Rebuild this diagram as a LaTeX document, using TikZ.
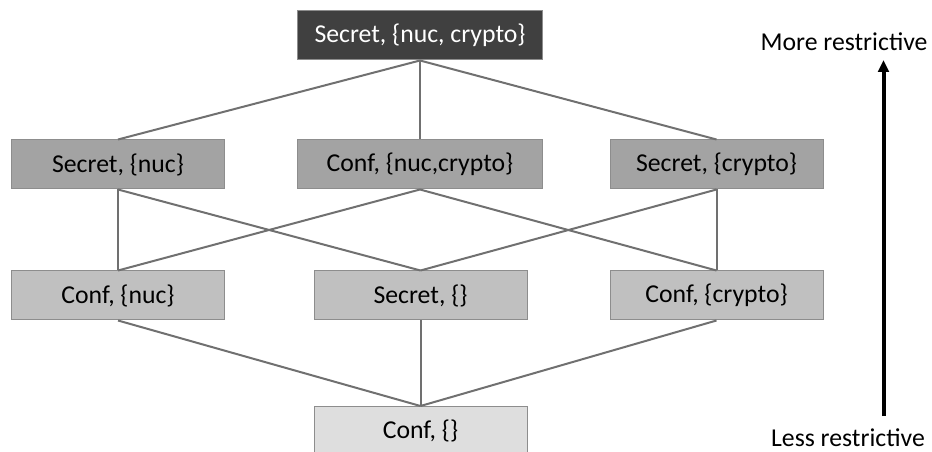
\documentclass[tikz,border=0pt]{standalone}
\usepackage{fontspec}
\setmainfont{Carlito}
\usetikzlibrary{arrows.meta}

\definecolor{topgray}{RGB}{64,64,64}
\definecolor{midgray}{RGB}{163,163,163}
\definecolor{lowgray}{RGB}{192,192,192}
\definecolor{botgray}{RGB}{222,222,222}
\definecolor{linegray}{RGB}{112,112,112}

\begin{document}
\begin{tikzpicture}[x=0.75pt,y=-0.75pt,
		every node/.style={font=\fontsize{19.3}{23}\selectfont},
		lbox/.style={draw=linegray!80, line width=0.75pt, inner sep=0pt,
			minimum height=36.75pt, minimum width=159.75pt},
		wide/.style={minimum width=183.5pt},
		link/.style={draw=linegray, line width=1.5pt}]
				\useasboundingbox (0,0) rectangle (932,452);
				
				% lattice levels
				\node[lbox, wide, fill=topgray, text=white] (sc-nc) at (420,35.5) {Secret, \{nuc, crypto\}};
				
				\node[lbox, fill=midgray] (s-n) at (118,164.5) {Secret, \{nuc\}};
				\node[lbox, wide, fill=midgray] (c-nc) at (420,164.5) {Conf, \{nuc,crypto\}};
				\node[lbox, fill=midgray] (s-c) at (716.5,164.5) {Secret, \{crypto\}};
				
				\node[lbox, fill=lowgray] (c-n) at (118,295.5) {Conf, \{nuc\}};
				\node[lbox, fill=lowgray] (s-0) at (420.5,295.5) {Secret, \{\}};
				\node[lbox, fill=lowgray] (c-c) at (716.5,295.5) {Conf, \{crypto\}};
				
				\node[lbox, fill=botgray] (c-0) at (420.5,431) {Conf, \{\}};
				
				% order relation
				\foreach \a/\b in {sc-nc/s-n, sc-nc/c-nc, sc-nc/s-c,
					s-n/c-n, s-n/s-0, c-nc/c-n, c-nc/c-c, s-c/s-0, s-c/c-c,
					c-n/c-0, s-0/c-0, c-c/c-0}
					\draw[link] (\a.south) -- (\b.north);
				
				% direction
				\node (more) at (844,42) {More restrictive};
				\node (less) at (848,438) {Less restrictive};
				\coordinate (lo) at (883.5,416);
				\coordinate (hi) at (883.5,60);
				\draw[-{Triangle[width=8pt,length=9pt]}, line width=3pt] (lo) -- (hi);
			\end{tikzpicture}
\end{document}
